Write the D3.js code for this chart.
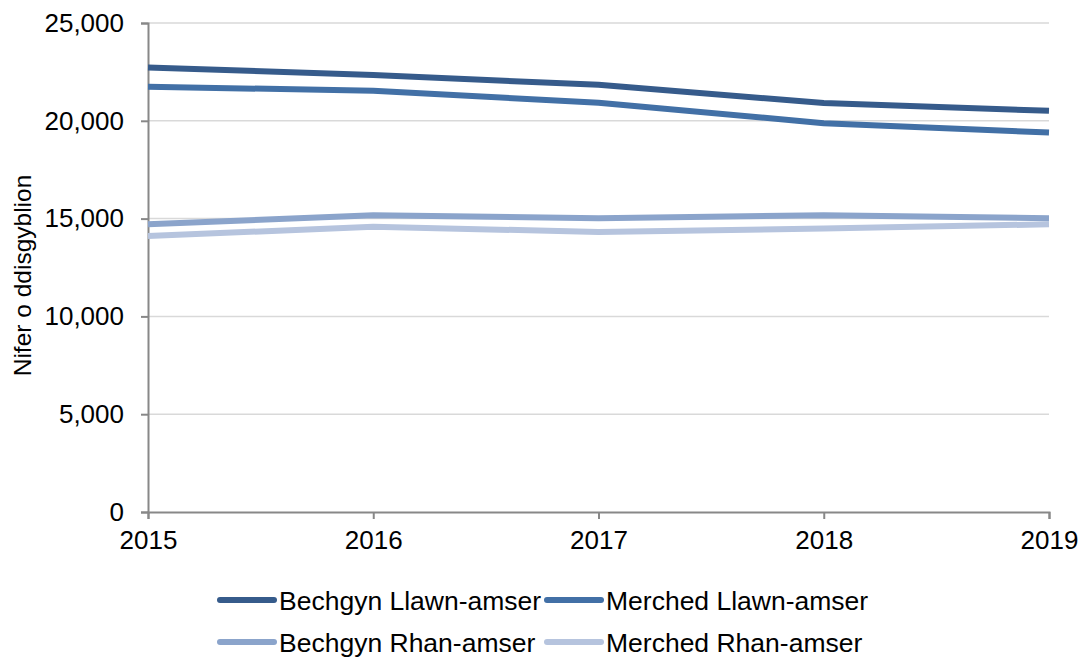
<!DOCTYPE html>
<html>
<head>
<meta charset="utf-8">
<script src="https://cdn.jsdelivr.net/npm/d3@7"></script>
<style>
  body { margin: 0; background: #fff; }
  text { font-family: "Liberation Sans", Arial, sans-serif; fill: #000; }
</style>
</head>
<body>
<svg id="chart" width="1083" height="657"></svg>
<script>
const years = [2015, 2016, 2017, 2018, 2019]
const seriesNames = ['Bechgyn Llawn-amser', 'Merched Llawn-amser', 'Bechgyn Rhan-amser', 'Merched Rhan-amser']
const bechgynLlawn = [22730, 22340, 21840, 20910, 20510]
const merchedLlawn = [21740, 21540, 20920, 19880, 19400]
const bechgynRhan = [14710, 15170, 15020, 15170, 15020]
const merchedRhan = [14110, 14580, 14320, 14490, 14710]
const yTicks = [0, 5000, 10000, 15000, 20000, 25000]
const colors = ['#365b8b', '#4270a6', '#8ba4cb', '#b6c4de']

const allSeries = [bechgynLlawn, merchedLlawn, bechgynRhan, merchedRhan]

const svg = d3.select('#chart')
const plotLeft = 148, plotRight = 1049, plotTop = 23, plotBottom = 512

const x = d3.scalePoint().domain(years).range([plotLeft, plotRight])
const y = d3.scaleLinear().domain([0, 25000]).range([plotBottom, plotTop])

// gridlines
svg.append('g')
  .selectAll('line')
  .data(yTicks.filter(d => d > 0))
  .enter().append('line')
  .attr('x1', plotLeft).attr('x2', plotRight)
  .attr('y1', d => y(d)).attr('y2', d => y(d))
  .attr('stroke', '#d9d9d9').attr('stroke-width', 1.5)

// y axis
const yAxis = svg.append('g')
  .attr('transform', `translate(${plotLeft},0)`)
  .call(d3.axisLeft(y).tickValues(yTicks).tickSize(7).tickPadding(17).tickFormat(d3.format(',')))
yAxis.select('.domain').attr('stroke', '#888').attr('stroke-width', 2)
yAxis.selectAll('.tick line').attr('stroke', '#888').attr('stroke-width', 2)
yAxis.selectAll('.tick text').style('font-size', '26px').attr('fill', '#000')

// x axis
const xAxis = svg.append('g')
  .attr('transform', `translate(0,${plotBottom})`)
  .call(d3.axisBottom(x).tickSize(7).tickPadding(12).tickFormat(d => d))
xAxis.select('.domain').attr('stroke', '#888').attr('stroke-width', 2)
xAxis.selectAll('.tick line').attr('stroke', '#888').attr('stroke-width', 2)
xAxis.selectAll('.tick text').style('font-size', '26px').attr('fill', '#000')

// y title
svg.append('text')
  .attr('transform', 'translate(31,' + ((plotTop + plotBottom) / 2 + 8) + ') rotate(-90)')
  .attr('text-anchor', 'middle')
  .style('font-size', '24.5px')
  .text('Nifer o ddisgyblion')

// lines
const line = d3.line().x((d, i) => x(years[i])).y(d => y(d))
svg.append('g')
  .selectAll('path')
  .data(allSeries.slice().reverse())
  .enter().append('path')
  .attr('d', d => line(d))
  .attr('fill', 'none')
  .attr('stroke', (d, i) => colors[colors.length - 1 - i])
  .attr('stroke-width', 6)
  .attr('stroke-linejoin', 'round')

// legend
const legendPos = [[220, 600], [547, 600], [220, 642], [547, 642]]
const lg = svg.append('g')
  .selectAll('g')
  .data(seriesNames)
  .enter().append('g')
  .attr('transform', (d, i) => `translate(${legendPos[i][0]},${legendPos[i][1]})`)
lg.append('line')
  .attr('x1', 0).attr('x2', 54).attr('y1', 0).attr('y2', 0)
  .attr('stroke', (d, i) => colors[i])
  .attr('stroke-width', 6)
  .attr('stroke-linecap', 'round')
lg.append('text')
  .attr('x', 59).attr('y', 10)
  .style('font-size', '26.5px')
  .text(d => d)
</script>
</body>
</html>
